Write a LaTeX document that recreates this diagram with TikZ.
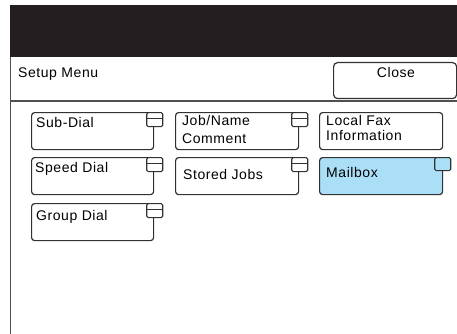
\documentclass[tikz,border=0pt]{standalone}
\usepackage{fontspec}
\setmainfont{Liberation Sans}[LetterSpace=4]
\definecolor{band}{RGB}{35,31,32}
\definecolor{edge}{RGB}{50,50,50}
\definecolor{frameline}{RGB}{80,80,80}
\definecolor{selblue}{RGB}{171,223,247}
\begin{document}
\begin{tikzpicture}[x=1pt,y=-1pt,
  btn/.style={draw=edge, line width=1.2pt, rounded corners=3pt, fill=white,
    anchor=north west, inner sep=0pt, minimum width=122pt, minimum height=37pt},
  tabbox/.style={draw=edge, line width=1.1pt, rounded corners=1.5pt, fill=white,
    anchor=north west, inner sep=0pt, minimum width=16pt, minimum height=14pt},
  lbl/.style={anchor=base west, inner sep=0pt, font=\fontsize{14}{16}\selectfont},
  frame/.style={draw=frameline, line width=1.4pt}]
\useasboundingbox (0,0) rectangle (457,334);

% title bar and panel frame
\fill[band] (10,5) rectangle (457,57);
\draw[frame] (10.7,57) -- (10.7,334);
\draw[frame] (10,101) -- (457,101);

% header
\node[lbl] (title) at (18,78) {Setup Menu};
\node[btn, rounded corners=4pt, minimum width=123pt, minimum height=36pt] (close) at (333,62) {};
\node[lbl, anchor=base] (closetxt) at (396,78) {Close};

% first column
\node[btn] (subdial) at (31,112) {};
\node[tabbox] (subdialtab) at ([xshift=-8pt]subdial.north east) {};
\draw[edge, line width=1pt] ([yshift=-6pt]subdialtab.north west) -- ([yshift=-6pt]subdialtab.north east);
\node[lbl] (subdialtxt) at (36,127) {Sub-Dial};

\node[btn] (speed) at (31,157) {};
\node[tabbox] (speedtab) at ([xshift=-8pt]speed.north east) {};
\draw[edge, line width=1pt] ([yshift=-6pt]speedtab.north west) -- ([yshift=-6pt]speedtab.north east);
\node[lbl] (speedtxt) at (35,172) {Speed Dial};

\node[btn] (group) at (31,203) {};
\node[tabbox] (grouptab) at ([xshift=-8pt]group.north east) {};
\draw[edge, line width=1pt] ([yshift=-6pt]grouptab.north west) -- ([yshift=-6pt]grouptab.north east);
\node[lbl] (grouptxt) at (36,220) {Group Dial};

% second column
\node[btn, minimum width=123pt] (jobname) at (175,112) {};
\node[tabbox] (jobnametab) at ([xshift=-8pt]jobname.north east) {};
\draw[edge, line width=1pt] ([yshift=-6pt]jobnametab.north west) -- ([yshift=-6pt]jobnametab.north east);
\node[lbl] (jobnametxta) at (182,125) {Job/Name};
\node[lbl] (jobnametxtb) at (182,143) {Comment};

\node[btn, minimum width=123pt] (stored) at (175,157) {};
\node[tabbox] (storedtab) at ([xshift=-8pt]stored.north east) {};
\draw[edge, line width=1pt] ([yshift=-6pt]storedtab.north west) -- ([yshift=-6pt]storedtab.north east);
\node[lbl] (storedtxt) at (183,179) {Stored Jobs};

% third column
\node[btn, minimum width=123pt] (localfax) at (319,112) {};
\node[lbl] (localfaxtxta) at (326,125) {Local Fax};
\node[lbl] (localfaxtxtb) at (326,140) {Information};

\node[btn, minimum width=123pt, fill=selblue] (mailbox) at (319,157) {};
\node[tabbox, fill=selblue, minimum height=13pt] (mailboxtab) at ([xshift=-9pt]mailbox.north east) {};
\node[lbl] (mailboxtxt) at (326,177.5) {Mailbox};
\end{tikzpicture}
\end{document}
